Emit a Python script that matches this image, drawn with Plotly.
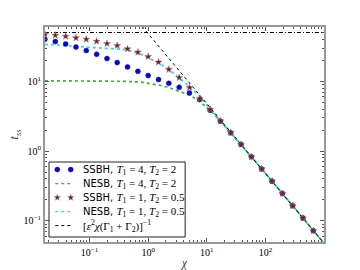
import plotly.graph_objects as go
import math

# ---- data ----
chi_pts = [0.0173, 0.026, 0.039, 0.0585, 0.0878, 0.132, 0.198, 0.296, 0.444, 0.667,
           1.0, 1.5, 2.25, 3.38, 5.06, 7.59, 11.4, 17.1, 25.6, 38.4, 57.7, 86.5,
           130, 195, 292, 438, 657]
ssbh_a = [40.0, 37.1, 34.3, 31.0, 27.6, 24.4, 21.2, 18.6, 16.1, 13.9,
          12.1, 10.6, 9.38, 8.22, 6.82, 5.49, 3.86, 2.69, 1.83, 1.25, 0.83, 0.557,
          0.372, 0.248, 0.165, 0.110, 0.0724]
ssbh_b = [46.7, 45.6, 44.1, 41.8, 40.0, 37.4, 34.7, 32.5, 29.1, 26.1,
          22.6, 18.8, 14.8, 11.3, 8.15, 5.60, 3.95, 2.71, 1.85, 1.25, 0.83, 0.557,
          0.372, 0.248, 0.165, 0.110, 0.0724]

chi_nesb_a = [0.0173, 0.05, 0.15, 0.4, 0.72, 1.1, 1.59, 2.36, 3.49, 5.18, 7.67, 11.4,
              17.1, 25.6, 38.4, 57.7, 86.5, 130, 195, 292, 438, 657, 1000]
nesb_a = [10.2, 10.2, 10.1, 10.0, 9.78, 9.35, 8.78, 8.04, 7.21, 6.32, 5.07, 3.86,
          2.69, 1.83, 1.25, 0.83, 0.557, 0.372, 0.248, 0.165, 0.110, 0.0724, 0.048]

chi_nesb_b = [0.0173, 0.0604, 0.15, 0.432, 0.723, 1.07, 1.59, 2.36, 3.49, 5.18, 7.67, 11.4,
              17.1, 25.6, 38.4, 57.7, 86.5, 130, 195, 292, 438, 657, 1000]
nesb_b = [33.9, 31.8, 30.4, 28.3, 24.9, 21.2, 17.9, 14.4, 11.0, 8.32, 5.98, 4.08,
          2.71, 1.85, 1.25, 0.83, 0.557, 0.372, 0.248, 0.165, 0.110, 0.0724, 0.048]

chi_asym = [0.5, 1000]
asym = [96.0, 0.048]

chi_flat = [0.0173, 1000]
flat = [50, 50]

x_tickvals = [0.1, 1, 10, 100]
x_ticktext = ["10<sup>−1</sup>", "10<sup>0</sup>", "10<sup>1</sup>", "10<sup>2</sup>"]
y_tickvals = [0.1, 1, 10]
y_ticktext = ["10<sup>−1</sup>", "10<sup>0</sup>", "10<sup>1</sup>"]

SANS = "DejaVu Sans"
SERIF = "Liberation Serif"

def lab(name, t1, t2):
    return (f"{name}, <span style='font-family:{SERIF};font-size:11px'><i>T</i><sub>1</sub> = {t1}, "
            f"<i>T</i><sub>2</sub> = {t2}</span>")

legend_labels = [
    lab("SSBH", 4, 2),
    lab("NESB", 4, 2),
    lab("SSBH", 1, 0.5),
    lab("NESB", 1, 0.5),
    (f"<span style='font-family:{SERIF};font-size:11px'>[<i>ε</i><sup>2</sup><i>χ</i>"
     "(Γ<sub>1</sub> + Γ<sub>2</sub>)]<sup>−1</sup></span>"),
]

# styles
BLUE = "#0000ff"
BLUE_EDGE = "#222244"
RED = "#8b1010"
RED_EDGE = "#888888"
GREEN = "#3cb043"
CYAN = "#3ed8d8"

fig = go.Figure()
fig.add_trace(go.Scatter(x=chi_nesb_a, y=nesb_a, mode="lines", name=legend_labels[1],
                         line=dict(color=GREEN, width=1.7, dash="dot")))
fig.add_trace(go.Scatter(x=chi_nesb_b, y=nesb_b, mode="lines", name=legend_labels[3],
                         line=dict(color=CYAN, width=1.8, dash="dot")))
fig.add_trace(go.Scatter(x=chi_asym, y=asym, mode="lines", name=legend_labels[4],
                         line=dict(color="black", width=1, dash="3px,3px")))
fig.add_trace(go.Scatter(x=chi_flat, y=flat, mode="lines",
                         line=dict(color="black", width=1, dash="4px,2px,1px,2px")))
fig.add_trace(go.Scatter(x=chi_pts, y=ssbh_a, mode="markers", name=legend_labels[0],
                         marker=dict(symbol="circle", size=5.0, color=BLUE,
                                     line=dict(color=BLUE_EDGE, width=0.5))))
fig.add_trace(go.Scatter(x=chi_pts, y=ssbh_b, mode="markers", name=legend_labels[2],
                         marker=dict(symbol="star", size=5.3, color=RED,
                                     line=dict(color=RED_EDGE, width=0.5))))

minor_x = [m * 10 ** e for e in range(-2, 3) for m in range(2, 10)]
minor_y = [m * 10 ** e for e in range(-2, 2) for m in range(2, 10)]

axis_common = dict(showline=True, linecolor="#999999", linewidth=2, mirror="allticks",
                   ticks="inside", ticklen=4, tickcolor="#555555", tickwidth=1,
                   showgrid=False, zeroline=False, automargin=False,
                   tickfont=dict(family=SERIF, size=10, color="black"))

fig.update_xaxes(type="log", range=[math.log10(0.01734), 3],
                 tickmode="array", tickvals=x_tickvals, ticktext=x_ticktext,
                 ticklabelstandoff=0,
                 minor=dict(tickmode="array", tickvals=minor_x, ticks="inside",
                            ticklen=2, tickcolor="#555555"),
                 title=dict(text="<i>χ</i>", font=dict(family=SERIF, size=12), standoff=3),
                 **axis_common)
fig.update_yaxes(type="log", range=[math.log10(0.05), math.log10(60)],
                 tickmode="array", tickvals=y_tickvals, ticktext=y_ticktext,
                 ticklabelstandoff=0,
                 minor=dict(tickmode="array", tickvals=minor_y, ticks="inside",
                            ticklen=2, tickcolor="#555555"),
                 title=dict(text="<i>t</i><sub><i>ss</i></sub>", font=dict(family=SERIF, size=12),
                            standoff=2),
                 **axis_common)

# ---- hand-drawn legend (matplotlib style: two sample points per entry) ----
PL, PR, PT, PB = 45, 323.7, 27, 242
def xp(px):
    return (px - PL) / (PR - PL)
def yp(py):
    return (PB - py) / (PB - PT)

box_l, box_r, box_t, box_b = 49, 185, 162, 237
row0, row_step = 169.6, 14.0
key_x = (57.3, 70.7)
text_x = 81.0

shapes = [dict(type="rect", xref="paper", yref="paper",
               x0=xp(box_l), x1=xp(box_r), y0=yp(box_b), y1=yp(box_t),
               line=dict(color="#222222", width=1), fillcolor="white", layer="above")]

def star_path(R=3.2, r=1.3):
    pts = []
    for k in range(10):
        ang = math.pi / 2 + k * math.pi / 5
        rad = R if k % 2 == 0 else r
        pts.append((rad * math.cos(ang), rad * math.sin(ang)))
    return "M " + " L ".join(f"{a:.2f},{b:.2f}" for a, b in pts) + " Z"

annotations = []
for i, text in enumerate(legend_labels):
    cy = row0 + i * row_step
    if i in (0, 2):
        for kx in key_x:
            if i == 0:
                shapes.append(dict(type="circle", xref="paper", yref="paper",
                                   xsizemode="pixel", ysizemode="pixel",
                                   xanchor=xp(kx), yanchor=yp(cy),
                                   x0=-2.5, x1=2.5, y0=-2.5, y1=2.5,
                                   fillcolor=BLUE, line=dict(color=BLUE_EDGE, width=0.5),
                                   layer="above"))
            else:
                shapes.append(dict(type="path", xref="paper", yref="paper",
                                   xsizemode="pixel", ysizemode="pixel",
                                   xanchor=xp(kx), yanchor=yp(cy),
                                   path=star_path(),
                                   fillcolor=RED, line=dict(color=RED_EDGE, width=0.5),
                                   layer="above"))
    else:
        sty = {1: (GREEN, "dot", 1.3), 3: (CYAN, "dot", 1.3), 4: ("black", "3px,3px", 1)}[i]
        shapes.append(dict(type="line", xref="paper", yref="paper",
                           x0=xp(key_x[0] - 2), x1=xp(key_x[1] + 1), y0=yp(cy), y1=yp(cy),
                           line=dict(color=sty[0], dash=sty[1], width=sty[2]), layer="above"))
    annotations.append(dict(text=text, xref="paper", yref="paper", x=xp(text_x), y=yp(cy),
                            xanchor="left", yanchor="middle", showarrow=False,
                            font=dict(family=SANS, size=10, color="black")))

fig.update_layout(
    width=360, height=270,
    margin=dict(l=45, r=36, t=27, b=28),
    paper_bgcolor="white", plot_bgcolor="white",
    showlegend=False,
    shapes=shapes,
    annotations=annotations,
)

fig.write_html("out.html", config={"displayModeBar": False},
               post_script="document.body.style.margin='0px';document.body.style.padding='0px';")
